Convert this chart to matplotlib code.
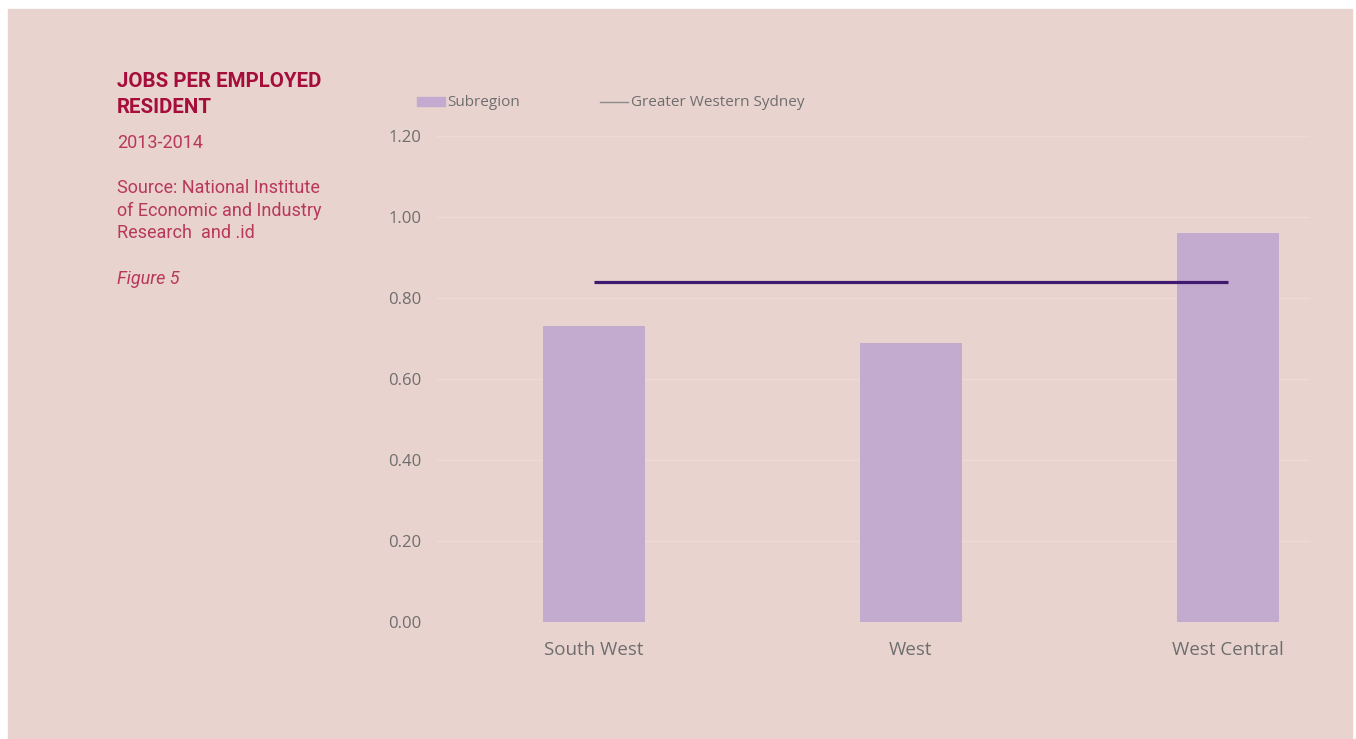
import matplotlib
matplotlib.use("Agg")
import matplotlib.pyplot as plt
from matplotlib.patches import Rectangle
from matplotlib.lines import Line2D

categories = ["South West", "West", "West Central"]
subregion = [0.73, 0.69, 0.96]
gws = [0.84, 0.84, 0.84]
yticks = [0.0, 0.2, 0.4, 0.6, 0.8, 1.0, 1.2]

BG = "#E9D3CE"
BAR = "#C3ABD0"
LINE = "#3F1A6E"
GRID = "#ECDAD6"
TICK = "#6E6E6E"
TITLE = "#A50D3A"
BODY = "#B8385A"

W, H = 1356, 739
fig = plt.figure(figsize=(W / 100, H / 100), dpi=100, facecolor="white")
fig.patches.append(Rectangle((8 / W, 0), (1352 - 8) / W, (739 - 9) / H,
                             transform=fig.transFigure, color=BG, zorder=-10))

ax = fig.add_axes([437 / W, (H - 622) / H, 873 / W, 486 / H])
ax.set_facecolor("none")
x = list(range(len(categories)))
ax.bar(x, subregion, width=0.322, color=BAR, zorder=2)
ax.plot(x, gws, color=LINE, lw=2.3, zorder=3, solid_capstyle="butt")
ax.set_xlim(-0.495, 2.26)
ax.set_ylim(0, 1.2)
ax.set_yticks(yticks)
ax.set_yticklabels([f"{v:.2f}" for v in yticks])
ax.set_xticks(x)
ax.set_xticklabels(categories)
ax.grid(axis="y", color=GRID, lw=1.0, zorder=0)
for s in ax.spines.values():
    s.set_visible(False)
ax.tick_params(axis="both", length=0)
ax.tick_params(axis="y", pad=11, labelsize=12, labelcolor=TICK)
ax.tick_params(axis="x", pad=14, labelsize=13.5, labelcolor=TICK)
for lbl in ax.get_yticklabels() + ax.get_xticklabels():
    lbl.set_family("Open Sans")

# legend
fig.patches.append(Rectangle((417 / W, 1 - 106 / H), 28 / W, 9 / H,
                             transform=fig.transFigure, color=BAR))
fig.text(447 / W, 1 - 102 / H, "Subregion", fontsize=11, color=TICK,
         va="center", ha="left", family="Open Sans")
fig.lines.append(Line2D([600 / W, 628 / W], [1 - 102 / H, 1 - 102 / H],
                        transform=fig.transFigure, color="#8A8A8A", lw=1))
fig.text(631 / W, 1 - 102 / H, "Greater Western Sydney", fontsize=11,
         color=TICK, va="center", ha="left", family="Open Sans")

# left panel text
lx = 117 / W
fig.text(lx, 1 - 87 / H, "JOBS PER EMPLOYED", fontsize=14.8, fontweight="bold",
         color=TITLE, va="baseline", family="Roboto")
fig.text(lx, 1 - 113 / H, "RESIDENT", fontsize=14.8, fontweight="bold",
         color=TITLE, va="baseline", family="Roboto")
fig.text(lx, 1 - 148 / H, "2013-2014", fontsize=13, fontweight="normal",
         color=BODY, va="baseline", family="Roboto")
for i, t in enumerate(["Source: National Institute",
                       "of Economic and Industry",
                       "Research  and .id"]):
    fig.text(lx, 1 - (193 + 22.5 * i) / H, t, fontsize=13, fontweight="normal",
             color=BODY, va="baseline", family="Roboto")
fig.text(lx, 1 - 284 / H, "Figure 5", fontsize=13, fontweight="normal",
         style="italic", color=BODY, va="baseline", family="Roboto")

fig.savefig("out.png", dpi=100, facecolor="white")
